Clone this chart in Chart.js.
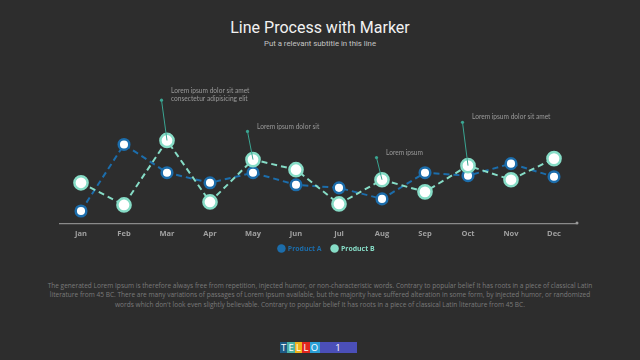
<!DOCTYPE html>
<html>
<head>
<meta charset="utf-8">
<script src="https://cdn.jsdelivr.net/npm/chart.js@4.4.1/dist/chart.umd.min.js"></script>
<style>
  html, body { margin:0; padding:0; background:#2d2d2d; }
  body { width:640px; height:360px; position:relative; overflow:hidden; font-family: Roboto, "Open Sans", sans-serif; -webkit-font-smoothing: antialiased; }
  #wrap { position:absolute; left:0; top:0; width:640px; height:264px; }
  #title { position:absolute; top:18px; width:640px; text-align:center; color:#f2f2f2; font-family:Roboto, sans-serif; font-size:16px; }
  #sub { position:absolute; top:38.5px; width:640px; text-align:center; color:#c4c4c4; font-family:Roboto, sans-serif; font-size:7.8px; }
  #para { position:absolute; top:281px; left:40px; width:560px; text-align:center; color:#7a7a7a; font-family:"Open Sans", sans-serif; font-size:6.55px; line-height:9.3px; }
  #logo { position:absolute; top:342px; left:280px; height:11px; display:flex; }
  #logo span { display:inline-block; height:11px; line-height:11px; color:#fff; font-family:"Open Sans", sans-serif; font-size:9.5px; text-align:center; width:7.4px; }
</style>
</head>
<body>
<div id="title">Line Process with Marker</div>
<div id="sub">Put a relevant subtitle in this line</div>
<div id="wrap"><canvas id="c" width="640" height="264"></canvas></div>
<div id="para">The generated Lorem Ipsum is therefore always free from repetition, injected humor, or non-characteristic words. Contrary to popular belief It has roots in a piece of classical Latin literature from 45 BC. There are many variations of passages of Lorem Ipsum available, but the majority have suffered alteration in some form, by injected humor, or randomized words which don't look even slightly believable. Contrary to popular belief It has roots in a piece of classical Latin literature from 45 BC.</div>
<div id="logo">
  <span style="background:#1d5a85">T</span><span style="background:#4bb0a6">E</span><span style="background:#f0b21a">L</span><span style="background:#e0261f">L</span><span style="background:#2b9fd6;width:10px">O</span><span style="background:#4b4fb8;width:37px">1</span>
</div>
<script>
const categories = ['Jan','Feb','Mar','Apr','May','Jun','Jul','Aug','Sep','Oct','Nov','Dec'];
const productA = [12, 78, 50, 40, 50, 38, 35, 24, 50, 47, 59, 46];
const productB = [40, 18, 82, 21, 63, 53, 19, 43, 31, 57, 43, 64];
const seriesNames = ['Product A', 'Product B'];
// callouts: category index, value of the callout dot, text lines
const calloutCategory = [2, 4, 7, 9];
const calloutValue = [122, 91, 65, 100];
const calloutText = [
  ['Lorem ipsum dolor sit amet', 'consectetur adipisicing elit'],
  ['Lorem ipsum dolor sit'],
  ['Lorem ipsum'],
  ['Lorem ipsum dolor sit amet']
];

const colA = '#1c6dab';
const colB = '#86dcc6';
const colCallout = '#3aa592';

const calloutPlugin = {
  id: 'callouts',
  afterLayout(chart) {
    // keep the tick labels unclipped and nudge the legend to the right
    chart.scales.x.bottom += 9;
    chart.legend.left += 9;
    chart.legend.right += 9;
  },
  afterDatasetsDraw(chart) {
    const ctx = chart.ctx, xs = chart.scales.x, ys = chart.scales.y;
    ctx.save();
    calloutCategory.forEach((ci, k) => {
      const px = xs.getPixelForValue(ci);
      const py = ys.getPixelForValue(productB[ci]);
      const dx = px - 5.5;
      const dy = ys.getPixelForValue(calloutValue[k]);
      ctx.strokeStyle = colCallout; ctx.lineWidth = 1;
      ctx.beginPath(); ctx.moveTo(dx, dy); ctx.lineTo(px, py); ctx.stroke();
      ctx.fillStyle = colCallout;
      ctx.beginPath(); ctx.arc(dx, dy, 1.6, 0, Math.PI*2); ctx.fill();
      ctx.fillStyle = '#9a9a9a';
      ctx.font = '6.6px Lato, sans-serif';
      ctx.textBaseline = 'middle';
      const lines = calloutText[k];
      const y0 = dy - 5 - (lines.length - 1) * 4.2;
      lines.forEach((t, i) => ctx.fillText(t, dx + 9.5, y0 + i * 8.4));
    });
    // axis end dot
    ctx.fillStyle = '#9a9a9a';
    ctx.beginPath(); ctx.arc(xs.right + 1.5, ys.bottom, 1.5, 0, Math.PI*2); ctx.fill();
    ctx.restore();
  }
};

new Chart(document.getElementById('c'), {
  type: 'line',
  data: {
    labels: categories,
    datasets: [
      { label: seriesNames[0], data: productA, borderColor: colA, backgroundColor: colA,
        borderWidth: 2, borderDash: [6, 4], pointRadius: 5.3, pointBorderWidth: 2.5,
        pointBackgroundColor: '#ffffff', pointBorderColor: colA, tension: 0, order: 2 },
      { label: seriesNames[1], data: productB, borderColor: colB, backgroundColor: colB,
        borderWidth: 2, borderDash: [6, 4], pointRadius: 6.6, pointBorderWidth: 2.5,
        pointBackgroundColor: '#ffffff', pointBorderColor: colB, tension: 0, order: 1 }
    ]
  },
  options: {
    responsive: false,
    animation: false,
    layout: { padding: { left: 59.5, right: 64.5, top: 82, bottom: 2 } },
    scales: {
      x: {
        offset: true,
        grid: { display: false, drawTicks: false },
        border: { display: true, color: '#8a8a8a', width: 1.2 },
        ticks: { color: '#a0a0a0', font: { family: '"Open Sans", sans-serif', size: 7.5, weight: 'bold' }, padding: 6 },
        afterFit(scale) { scale.height -= 9; }
      },
      y: { display: false, min: 0, max: 140 }
    },
    plugins: {
      legend: {
        position: 'bottom',
        labels: {
          usePointStyle: true, pointStyle: 'circle', boxWidth: 6, boxHeight: 6,
          padding: 10, font: { family: '"Open Sans", sans-serif', size: 6.9, weight: 'bold' },
          generateLabels(chart) {
            return chart.data.datasets.map((d, i) => ({
              text: d.label, fillStyle: d.borderColor, strokeStyle: d.borderColor,
              fontColor: d.borderColor, lineWidth: 0, pointStyle: 'circle', datasetIndex: i, hidden: false
            }));
          }
        }
      },
      tooltip: { enabled: false }
    }
  },
  plugins: [calloutPlugin]
});
</script>
</body>
</html>
